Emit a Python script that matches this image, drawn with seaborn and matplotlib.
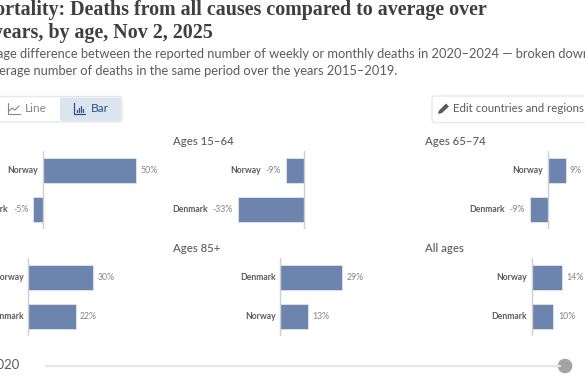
import matplotlib
matplotlib.use('Agg')
import matplotlib.pyplot as plt
import pandas as pd
import seaborn as sns
from matplotlib.patches import Circle, FancyBboxPatch, Polygon

W, H = 585, 384

# values
panel_titles = ['', 'Ages 15–64', 'Ages 65–74', '', 'Ages 85+', 'All ages']
panel_countries = [
    ['Norway', 'Denmark'], ['Norway', 'Denmark'], ['Norway', 'Denmark'],
    ['Norway', 'Denmark'], ['Denmark', 'Norway'], ['Norway', 'Denmark'],
]
panel_values = [[50, -5], [-9, -33], [9, -9], [30, 22], [29, 13], [14, 10]]

title_lines = ['Excess mortality: Deaths from all causes compared to average over',
               'previous years, by age, Nov 2, 2025']
subtitle_lines = ['The percentage difference between the reported number of weekly or monthly deaths in 2020–2024 — broken down',
                  'by age — and the average number of deaths in the same period over the years 2015–2019.']

# layout in pixels: zero line x, px per percent, top of axis, title x
layout = [(42.5, 1.87, 151, -79), (303.5, 2.0, 151, 173), (547.5, 2.0, 151, 425),
          (28, 2.16, 258, -79), (280, 2.15, 258, 173), (531.5, 2.18, 258, 425)]

BAR = '#6d85ae'
DARK = '#5b5b5b'
GREY = '#858585'
FONT = 'Lato'

sns.set_theme(style='white')
plt.rcParams['font.family'] = FONT
fig = plt.figure(figsize=(W / 100, H / 100), dpi=100)

# overlay in pixel coords for everything around the small charts
bg = fig.add_axes([0, 0, 1, 1])
bg.set_xlim(0, W)
bg.set_ylim(H, 0)
bg.axis('off')

# title and subtitle are cut by the left edge, anchored on the right
bg.text(487, 10.5, title_lines[0], ha='right', va='center', fontsize=14.4, fontweight='bold',
        family='Liberation Serif', color='#3f3f3f')
bg.text(213, 33, title_lines[1], ha='right', va='center', fontsize=14.4, fontweight='bold',
        family='Liberation Serif', color='#3f3f3f')
bg.text(590, 54, subtitle_lines[0], ha='right', va='center', fontsize=9.3, color=DARK)
bg.text(397, 71, subtitle_lines[1], ha='right', va='center', fontsize=9.3, color=DARK)

# Line / Bar toggle
bg.add_patch(FancyBboxPatch((-10, 96.5), 132, 25.5, boxstyle='round,pad=0,rounding_size=3',
                            fc='white', ec='#e7e7e7', lw=1))
bg.add_patch(FancyBboxPatch((60, 97.5), 61, 23.5, boxstyle='round,pad=0,rounding_size=2',
                            fc='#dbe5f0', ec='none'))
bg.text(24.5, 108.5, 'Line', ha='left', va='center', fontsize=8.6, color=GREY)
bg.text(90.5, 108.5, 'Bar', ha='left', va='center', fontsize=8.6, color='#2f4f7f')
bg.plot([8, 8, 20], [103, 113.5, 113.5], color=GREY, lw=0.8)
bg.plot([9, 12, 15, 19], [111, 108, 110, 106], color=GREY, lw=0.8)
bg.plot([74, 74, 85], [103, 113.5, 113.5], color='#2f4f7f', lw=0.9)
for bx, top in zip([76.5, 78.7, 80.9, 83.1], [110, 108, 106, 109]):
    bg.plot([bx, bx], [112, top], color='#2f4f7f', lw=0.9)

# edit button
bg.add_patch(FancyBboxPatch((432, 96), 170, 26.5, boxstyle='round,pad=0,rounding_size=3',
                            fc='white', ec='#e7e7e7', lw=1))
bg.add_patch(Polygon([[438, 114], [439, 110.5], [446, 103.5], [449, 106.5], [442, 113]], fc=DARK, ec='none'))
bg.text(453, 108, 'Edit countries and regions', ha='left', va='center', fontsize=8.3, color=DARK)

# time slider
bg.text(20, 365, '2020', ha='right', va='center', fontsize=9.4, color=DARK)
bg.plot([46, 560], [366, 366], color='#e6e6e6', lw=1.6, solid_capstyle='round')
bg.add_patch(Circle((565, 366), 7.3, fc='#a3a3a3', ec='none'))

for i in range(6):
    zero, scale, top, title_x = layout[i]
    df = pd.DataFrame({'country': panel_countries[i], 'value': panel_values[i]})

    left, right = zero - 90, zero + 110
    ax = fig.add_axes([left / W, 1 - (top + 78) / H, (right - left) / W, 78 / H])
    ax.patch.set_alpha(0)
    sns.barplot(data=df, x='value', y='country', order=panel_countries[i], color=BAR,
                saturation=1, width=0.65, edgecolor='#dfe6f0', linewidth=0.6, ax=ax)
    ax.set_xlim(-90 / scale, 110 / scale)
    ax.set_ylim(1.5, -0.5)
    sns.despine(ax=ax, left=True, bottom=True)
    ax.set(xlabel='', ylabel='', xticks=[], yticks=[])
    ax.axvline(0, color='#cfcfcf', lw=1, zorder=5)

    for j, (name, v) in enumerate(zip(panel_countries[i], panel_values[i])):
        if v >= 0:
            ax.annotate(f'{v}%', (v, j), xytext=(4.5, 0), textcoords='offset pixels', ha='left',
                        va='center', fontsize=6.3, color=GREY, annotation_clip=False)
            ax.annotate(name, (0, j), xytext=(-4.5, 0), textcoords='offset pixels', ha='right',
                        va='center', fontsize=6.2, fontweight='bold', color=DARK, annotation_clip=False)
        else:
            t = ax.annotate(f'{v}%', (v, j), xytext=(-4.5, 0), textcoords='offset pixels', ha='right',
                            va='center', fontsize=6.3, color=GREY, annotation_clip=False)
            box = t.get_window_extent(fig.canvas.get_renderer())
            ax.annotate(name, (v, j), xytext=(-4.5 - box.width - 5, 0), textcoords='offset pixels', ha='right',
                        va='center', fontsize=6.2, fontweight='bold', color=DARK, annotation_clip=False)

    if panel_titles[i]:
        bg.text(title_x, top - 9.5, panel_titles[i], ha='left', va='center', fontsize=8.2,
                fontweight='medium', color=DARK)

fig.savefig('out.png', dpi=100)
